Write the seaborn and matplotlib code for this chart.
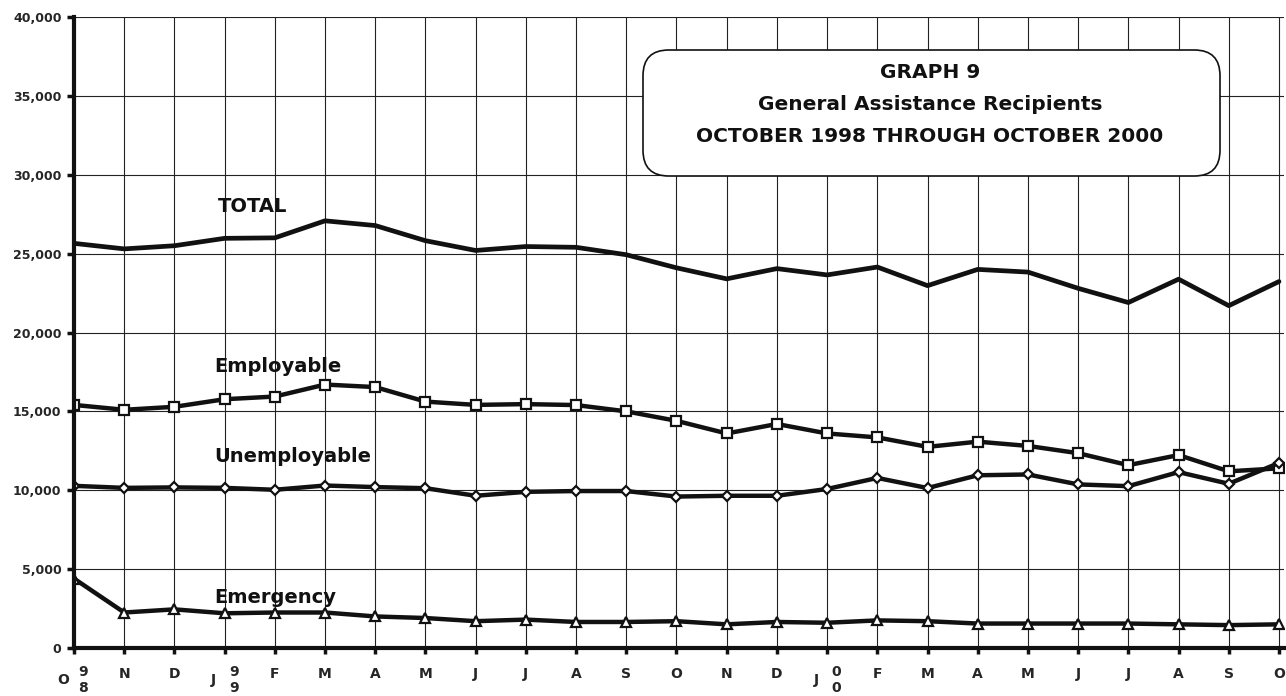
import matplotlib
matplotlib.use("Agg")
import matplotlib.pyplot as plt
from matplotlib.patches import FancyBboxPatch
import pandas as pd
import seaborn as sns

# months Oct 1998 .. Oct 2000
months = ["O", "N", "D", "J", "F", "M", "A", "M", "J", "J", "A", "S",
          "O", "N", "D", "J", "F", "M", "A", "M", "J", "J", "A", "S", "O"]
year_idx = [0, 3, 15]
year_digits = ["98", "99", "00"]

total = [25650, 25300, 25500, 25970, 26000, 27080, 26780, 25820, 25200, 25450,
         25400, 24930, 24100, 23400, 24050, 23650, 24150, 22970, 24000, 23830,
         22800, 21900, 23380, 21700, 23230]
employable = [15410, 15100, 15290, 15770, 15940, 16700, 16540, 15620, 15410, 15460,
              15400, 15000, 14400, 13600, 14200, 13600, 13350, 12750, 13080, 12810,
              12350, 11590, 12230, 11200, 11390]
unemployable = [10280, 10150, 10180, 10150, 10030, 10300, 10200, 10130, 9650, 9900,
                9950, 9950, 9600, 9650, 9650, 10080, 10780, 10140, 10950, 11000,
                10370, 10260, 11150, 10410, 11730]
emergency = [4400, 2250, 2450, 2200, 2250, 2250, 2000, 1900, 1700, 1800,
             1650, 1650, 1700, 1500, 1650, 1600, 1750, 1700, 1550, 1550,
             1550, 1550, 1500, 1450, 1500]

series_names = ["TOTAL", "Employable", "Unemployable", "Emergency"]
y_ticks = list(range(0, 40001, 5000))

df = pd.DataFrame({
    "idx": list(range(len(months))) * 4,
    "series": sum([[n] * len(months) for n in series_names], []),
    "value": total + employable + unemployable + emergency,
})

sns.set_theme(style="white")
plt.rcParams["font.family"] = ["DejaVu Sans"]

fig = plt.figure(figsize=(12.86, 6.96), dpi=100)
ax = fig.add_axes([74 / 1286, 1 - 648 / 696, 1210 / 1286, 631 / 696])

ink = "#111111"
styles = {
    "TOTAL": dict(marker=None, lw=3.4),
    "Employable": dict(marker="s", ms=7.5, lw=3.2),
    "Unemployable": dict(marker="D", ms=5, lw=3.2),
    "Emergency": dict(marker="^", ms=7, lw=3.2),
}
for name in series_names:
    sub = df[df["series"] == name]
    st = styles[name]
    kw = dict(color=ink, linewidth=st["lw"], zorder=4)
    if st["marker"]:
        kw.update(marker=st["marker"], markersize=st["ms"], markerfacecolor="white",
                  markeredgecolor=ink, markeredgewidth=1.6)
    sns.lineplot(data=sub, x="idx", y="value", ax=ax, **kw)

ax.set_xlim(0, 24.1)
ax.set_ylim(0, 40000)
ax.set_xlabel("")
ax.set_ylabel("")

# grid
ax.set_xticks(range(len(months)))
ax.set_yticks(y_ticks)
ax.grid(True, color="#222222", linewidth=0.8, zorder=1)
ax.set_axisbelow(True)

for s in ["top", "right"]:
    ax.spines[s].set_visible(False)
for s in ["left", "bottom"]:
    ax.spines[s].set_color(ink)
    ax.spines[s].set_linewidth(3)
    ax.spines[s].set_zorder(5)

ax.set_yticklabels([f"{v:,}" for v in y_ticks], fontsize=9, fontweight="bold")
xlabels = ["" if i in year_idx else m for i, m in enumerate(months)]
ax.set_xticklabels(xlabels, fontsize=10, fontweight="bold")
ax.tick_params(axis="y", length=5, width=2.5, pad=4, color=ink, left=True)
ax.tick_params(axis="x", length=4, width=2.5, pad=10, color=ink, bottom=True)

# split year labels: letter shifted down-left, digits stacked at right
for i, d in zip(year_idx, year_digits):
    ax.annotate(months[i], xy=(i, 0), xycoords=("data", "axes fraction"),
                xytext=(-11, -32), textcoords="offset pixels", ha="center", va="center",
                fontsize=10, fontweight="bold")
    ax.annotate(d[0], xy=(i, 0), xycoords=("data", "axes fraction"),
                xytext=(9, -24), textcoords="offset pixels", ha="center", va="center",
                fontsize=10, fontweight="bold")
    ax.annotate(d[1], xy=(i, 0), xycoords=("data", "axes fraction"),
                xytext=(9, -40), textcoords="offset pixels", ha="center", va="center",
                fontsize=10, fontweight="bold")

# series labels
label_pos = {"TOTAL": (2.87, 28000), "Employable": (2.79, 17870),
             "Unemployable": (2.79, 12170), "Emergency": (2.79, 3170)}
for name, (lx, ly) in label_pos.items():
    ax.text(lx, ly, name, ha="left", va="center", fontsize=14, fontweight="bold",
            color=ink, zorder=6)

# title box
box = FancyBboxPatch((643 / 1286, 1 - 176 / 696), 577 / 1286, 126 / 696,
                     boxstyle="round,pad=0,rounding_size=0.02",
                     mutation_aspect=1286 / 696, transform=fig.transFigure,
                     facecolor="white", edgecolor=ink, linewidth=1.2, zorder=3)
ax.add_patch(box)
for txt, yy in [("GRAPH 9", 73), ("General Assistance Recipients", 104),
                ("OCTOBER 1998 THROUGH OCTOBER 2000", 137)]:
    fig.text(930 / 1286, 1 - yy / 696, txt, ha="center", va="center",
             fontsize=14.5, fontweight="bold", color=ink, zorder=6)

fig.savefig("out.png", dpi=100)
